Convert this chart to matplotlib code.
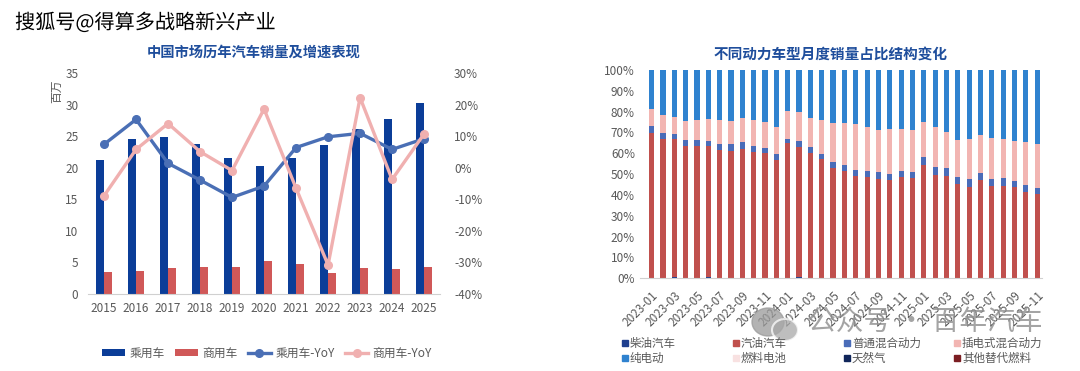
import numpy as np
import matplotlib.pyplot as plt
import matplotlib.patheffects as pe
from matplotlib.patches import Rectangle, Ellipse

plt.rcParams['font.family'] = ['Noto Sans CJK SC', 'DejaVu Sans']

# ---- left chart data ----
years = ['2015', '2016', '2017', '2018', '2019', '2020', '2021', '2022', '2023', '2024', '2025']
passenger = [21.2, 24.5, 24.8, 23.8, 21.5, 20.2, 21.5, 23.6, 26.1, 27.7, 30.2]
commercial = [3.5, 3.65, 4.1, 4.35, 4.35, 5.25, 4.8, 3.35, 4.1, 3.95, 4.35]
passenger_yoy = [7.4, 15.3, 1.4, -3.9, -9.4, -5.8, 6.4, 9.8, 10.9, 5.8, 9.2]
commercial_yoy = [-8.9, 5.8, 14.0, 5.1, -0.9, 18.6, -6.5, -30.8, 22.2, -3.7, 10.7]

# ---- right chart data (share %, 2023-01 .. 2025-11) ----
months = ['%d-%02d' % (y, m) for y in (2023, 2024, 2025) for m in range(1, 13)][:35]
diesel = [0.3, 0.3, 0.4, 0.3, 0.3, 0.4, 0.3, 0.3, 0.3, 0.3, 0.3, 0.3, 0.3, 0.4, 0.3, 0.3, 0.3, 0.3,
          0.3, 0.3, 0.3, 0.3, 0.3, 0.3, 0.3, 0.3, 0.3, 0.3, 0.3, 0.3, 0.3, 0.3, 0.3, 0.3, 0.3]
gasoline = [69.3, 66.7, 66.4, 63.2, 63.2, 63.2, 61.3, 61.0, 61.6, 60.3, 59.7, 56.5, 64.5, 62.9, 59.7,
            56.8, 52.8, 51.4, 48.8, 48.5, 47.2, 46.9, 48.2, 47.7, 54.1, 49.3, 48.8, 45.0, 43.4, 46.9,
            44.0, 44.0, 43.4, 41.3, 40.2]
hev = [3.7, 2.6, 2.6, 2.9, 2.9, 2.5, 2.9, 3.2, 3.4, 2.9, 2.7, 2.9, 2.2, 2.8, 2.9, 2.4, 2.9, 2.7,
       2.9, 2.9, 3.5, 2.9, 3.2, 3.2, 3.7, 3.7, 4.0, 3.5, 3.8, 3.2, 3.2, 3.7, 3.2, 3.2, 2.7]
phev = [8.0, 8.8, 8.0, 9.1, 9.6, 10.3, 11.5, 11.2, 11.5, 12.5, 12.2, 12.8, 13.3, 14.0, 14.2, 16.5,
        18.4, 20.0, 22.1, 20.8, 20.2, 21.4, 19.8, 20.0, 17.1, 19.2, 17.3, 17.6, 19.5, 18.4, 19.9,
        19.0, 19.1, 20.5, 21.3]
bev = [18.5, 21.4, 22.5, 24.3, 23.8, 23.5, 23.8, 24.1, 23.0, 23.8, 24.9, 27.3, 19.5, 19.8, 22.7,
       23.8, 25.4, 25.4, 25.7, 27.3, 28.6, 28.3, 28.3, 28.6, 24.6, 27.3, 29.4, 33.4, 32.8, 31.0,
       32.4, 32.8, 33.8, 34.5, 35.3]
fuelcell = [0.05] * 35
natgas = [0.1] * 35
other = [0.05] * 35

types = ['柴油汽车', '汽油汽车', '普通混合动力', '插电式混合动力', '纯电动', '燃料电池', '天然气', '其他替代燃料']
type_colors = ['#1f3f8f', '#c0504d', '#4a6cb8', '#f2b5b2', '#2f82cf', '#f8e1e1', '#10255a', '#7b1e22']

gray = '#595959'
title_blue = '#1f4e9c'

fig = plt.figure(figsize=(10.8, 3.71), dpi=100)

# ================= left chart =================
ax = fig.add_axes([0.0815, 0.2075, 0.326, 0.5957])
x = np.arange(len(years))
w = 0.25
ax.bar(x - w / 2, passenger, w, color='#0b3d98', label='乘用车')
ax.bar(x + w / 2, commercial, w, color='#d05858', label='商用车')
ax.set_xlim(-0.5, len(years) - 0.5)
ax.set_ylim(0, 35)
ax.set_yticks(range(0, 36, 5))
ax.set_xticks(x)
ax.set_xticklabels(years)
ax.tick_params(axis='both', length=0, labelsize=8.5, colors=gray)
ax.tick_params(axis='y', pad=7)
ax.tick_params(axis='x', pad=6)
for s in ['top', 'right', 'left']:
    ax.spines[s].set_visible(False)
ax.spines['bottom'].set_color('#d0d0d0')

ax2 = ax.twinx()
ax2.plot(x, passenger_yoy, color='#4a6fb5', lw=2.4, marker='o', ms=5.5, label='乘用车-YoY')
ax2.plot(x, commercial_yoy, color='#f0b0b0', lw=2.4, marker='o', ms=5.5, label='商用车-YoY')
ax2.set_ylim(-40, 30)
ax2.set_yticks(range(-40, 31, 10))
ax2.set_yticklabels(['%d%%' % v for v in range(-40, 31, 10)])
ax2.tick_params(axis='y', length=0, labelsize=8.5, colors=gray, pad=10)
for s in ax2.spines.values():
    s.set_visible(False)

fig.text(57 / 1080, 1 - 91 / 371, '百万', rotation=90, ha='center', va='center', fontsize=8.5, color=gray)
fig.text(254 / 1080, 1 - 53 / 371, '中国市场历年汽车销量及增速表现', ha='center', va='center',
         fontsize=10.3, fontweight='bold', color=title_blue)

h1, l1 = ax.get_legend_handles_labels()
h2, l2 = ax2.get_legend_handles_labels()
fig.legend(h1 + h2, l1 + l2, loc='center', bbox_to_anchor=(267 / 1080, 1 - 353 / 371), ncol=4,
           frameon=False, fontsize=8.5, handlelength=1.9, handleheight=0.6, handletextpad=0.4,
           columnspacing=0.9, labelcolor=gray)

# ================= right chart =================
axr = fig.add_axes([0.593, 0.2499, 0.372, 0.5614])
series = np.array([diesel, gasoline, hev, phev, bev, fuelcell, natgas, other], dtype=float)
series = series / series.sum(axis=0) * 100
xm = np.arange(len(months))
bottom = np.zeros(len(months))
for vals, name, c in zip(series, types, type_colors):
    axr.bar(xm, vals, 0.45, bottom=bottom, color=c, label=name)
    bottom += vals
axr.set_xlim(-0.99, len(months) - 0.55)
axr.set_ylim(0, 100)
axr.set_yticks(range(0, 101, 10))
axr.set_yticklabels(['%d%%' % v for v in range(0, 101, 10)])
axr.set_xticks(xm[::2])
axr.set_xticklabels(months[::2], rotation=45, ha='right', va='top', rotation_mode='anchor')
axr.tick_params(axis='both', length=0, labelsize=8.5, colors=gray)
axr.tick_params(axis='y', pad=4)
axr.tick_params(axis='x', pad=8)
for s in ['top', 'right', 'left']:
    axr.spines[s].set_visible(False)
axr.spines['bottom'].set_color('#d0d0d0')

fig.text(831 / 1080, 1 - 54 / 371, '不同动力车型月度销量占比结构变化', ha='center', va='center',
         fontsize=10.5, fontweight='bold', color=title_blue)

# watermark (wechat style)
fig.patches.append(Ellipse((768 / 1080, 1 - 322 / 371), 32 / 1080, 28 / 371, transform=fig.transFigure,
                           color='#9a9a9a', alpha=0.75, zorder=5))
fig.patches.append(Ellipse((785 / 1080, 1 - 330 / 371), 26 / 1080, 22 / 371, transform=fig.transFigure,
                           color='#a8a8a8', alpha=0.75, ec='white', lw=1.5, zorder=5))
fig.text(925 / 1080, 1 - 322 / 371, '公众号 · 百年汽车', ha='center', va='center', fontsize=20,
         color='#8e8e8e', alpha=0.8, zorder=6)

# right legend, 2 rows x 4 columns
col_x = [625, 736, 847, 957]
row_y = [343, 358]
for i, (name, c) in enumerate(zip(types, type_colors)):
    cx = col_x[i % 4]
    cy = row_y[i // 4]
    fig.patches.append(Rectangle(((cx - 3) / 1080, 1 - (cy + 3) / 371), 6 / 1080, 6 / 371,
                                 transform=fig.transFigure, color=c, zorder=7))
    fig.text((cx + 5) / 1080, 1 - cy / 371, name, ha='left', va='center', fontsize=8.3, color=gray, zorder=7)

# site watermark
fig.text(15 / 1080, 1 - 23 / 371, '搜狐号@得算多战略新兴产业', ha='left', va='center', fontsize=14.5,
         color='black', fontweight='medium',
         path_effects=[pe.withStroke(linewidth=2.5, foreground='white')])

fig.savefig('out.png', dpi=100)
